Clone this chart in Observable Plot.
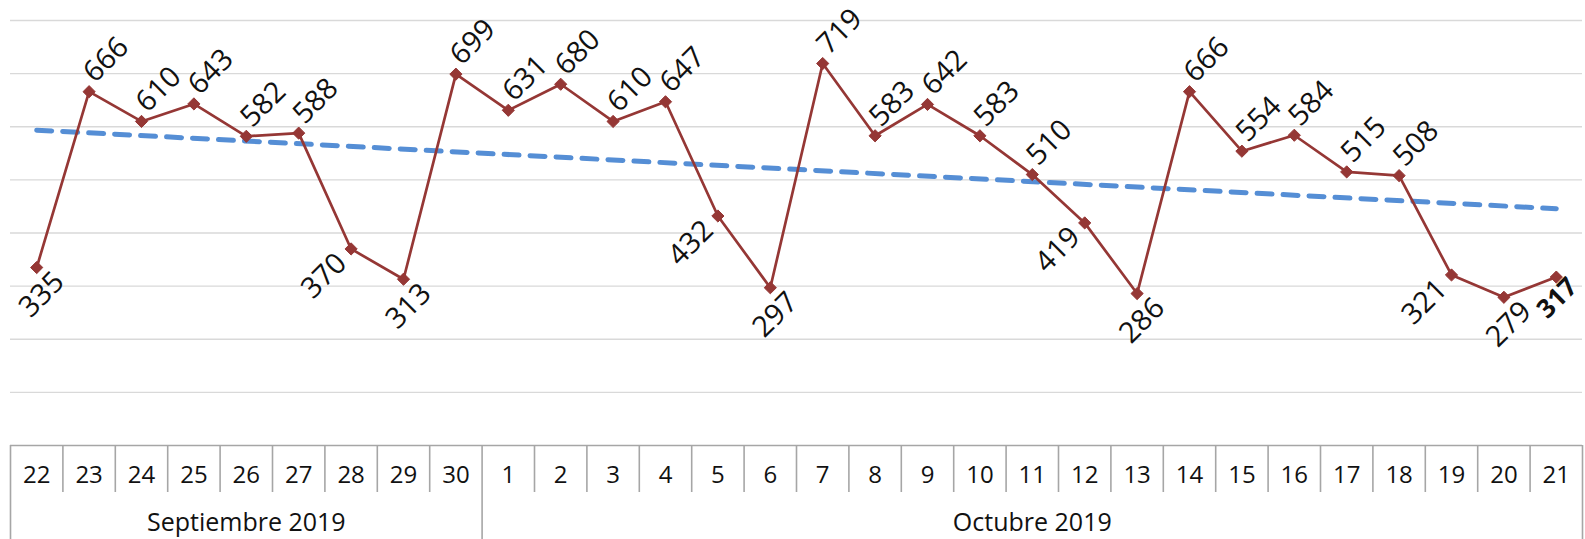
<!DOCTYPE html>
<html>
<head>
<meta charset="utf-8">
<script src="https://cdn.jsdelivr.net/npm/d3@7"></script>
<script src="https://cdn.jsdelivr.net/npm/@observablehq/plot@0.6"></script>
<style>
  html, body { margin: 0; padding: 0; background: #fff; }
  #chart svg { display: block; }
</style>
</head>
<body>
<div id="chart"></div>
<script>
// ---- data ----
const days = ["22","23","24","25","26","27","28","29","30",
  "1","2","3","4","5","6","7","8","9","10","11","12","13","14","15","16","17","18","19","20","21"];
const values = [335,666,610,643,582,588,370,313,699,
  631,680,610,647,432,297,719,583,642,583,510,419,286,666,554,584,515,508,321,279,317];
const months = ["Septiembre 2019", "Octubre 2019"];
const monthDayCounts = [9, 21];
const yTicks = [100,200,300,400,500,600,700,800];

// ---- layout ----
const W = 1585, H = 539;
const mt = 20, mb = 94, ml = 10, mr = 3;
const frameH = H - mt - mb;
const dayRowH = 47;
const font = "'Open Sans', 'Noto Sans', sans-serif";

const n = values.length;
const data = days.map((d, i) => ({i, day: d, value: values[i]}));
// label placement derived from data
data.forEach((d, i) => {
  const next = i < n - 1 ? values[i + 1] : Infinity;
  if (d.value < 450) d.pos = next < d.value ? "left" : "below";
  else d.pos = "above";
  d.last = i === n - 1;
});

// linear trend (least squares)
const mx = d3.mean(data, d => d.i), my = d3.mean(data, d => d.value);
const slope = d3.sum(data, d => (d.i - mx) * (d.value - my)) / d3.sum(data, d => (d.i - mx) ** 2);
const icpt = my - slope * mx;
const trend = [0, n - 1].map(i => ({i, value: icpt + slope * i}));

// axis helpers derived from data
const dayBoundaries = d3.range(1, n).map(i => i - 0.5);
let acc = 0;
const monthInfo = months.map((m, k) => {
  const start = acc; acc += monthDayCounts[k];
  return {name: m, start: start - 0.5, end: acc - 0.5, center: (start + acc - 1) / 2};
});
const monthBoundaries = [-0.5, ...monthInfo.map(m => m.end)];
const innerDayBoundaries = dayBoundaries.filter(b => !monthBoundaries.includes(b));

const red = "#953735";
const blue = "#558ed5";
const axisGray = "#a6a6a6";
const labelSize = 29;

const chart = Plot.plot({
  width: W, height: H,
  marginTop: mt, marginBottom: mb, marginLeft: ml, marginRight: mr,
  style: {fontFamily: font, background: "#fff", overflow: "visible"},
  x: {type: "linear", domain: [-0.5, n - 0.5], axis: null},
  y: {type: "linear", domain: [0, 800], axis: null},
  marks: [
    Plot.ruleY(yTicks, {stroke: "#d9d9d9", strokeWidth: 1.4}),
    Plot.ruleY([0], {stroke: axisGray, strokeWidth: 1.6}),
    Plot.ruleX(innerDayBoundaries, {x: d => d, stroke: axisGray, strokeWidth: 1.6, insetTop: frameH, insetBottom: -dayRowH}),
    Plot.ruleX(monthBoundaries, {x: d => d, stroke: axisGray, strokeWidth: 1.6, insetTop: frameH, insetBottom: -mb}),
    Plot.line(trend, {x: "i", y: "value", stroke: blue, strokeWidth: 5, strokeDasharray: "15 11", strokeLinecap: "round"}),
    Plot.line(data, {x: "i", y: "value", stroke: red, strokeWidth: 2.7}),
    Plot.dot(data, {x: "i", y: "value", symbol: "diamond2", r: 5.5, fill: red, stroke: red, strokeWidth: 1}),
    Plot.text(data.filter(d => d.pos === "above"), {x: "i", y: "value", text: d => String(d.value), rotate: -45, textAnchor: "middle", dx: 17, dy: -32, fontSize: labelSize, fill: "#111"}),
    Plot.text(data.filter(d => d.pos === "left"), {x: "i", y: "value", text: d => String(d.value), rotate: -45, textAnchor: "middle", dx: -27, dy: 27, fontSize: labelSize, fill: "#111"}),
    Plot.text(data.filter(d => d.pos === "below" && !d.last), {x: "i", y: "value", text: d => String(d.value), rotate: -45, textAnchor: "middle", dx: 5, dy: 27, fontSize: labelSize, fill: "#111"}),
    Plot.text(data.filter(d => d.last), {x: "i", y: "value", text: d => String(d.value), rotate: -45, textAnchor: "middle", dx: 1, dy: 21, fontSize: 26, fontWeight: "bold", fill: "#111"}),
    Plot.text(data, {x: "i", text: "day", frameAnchor: "bottom", dy: 37, fontSize: 24, fill: "#111"}),
    Plot.text(monthInfo, {x: "center", text: "name", frameAnchor: "bottom", dy: 85, fontSize: 25, fill: "#111"})
  ]
});
document.getElementById("chart").appendChild(chart);
</script>
</body>
</html>
